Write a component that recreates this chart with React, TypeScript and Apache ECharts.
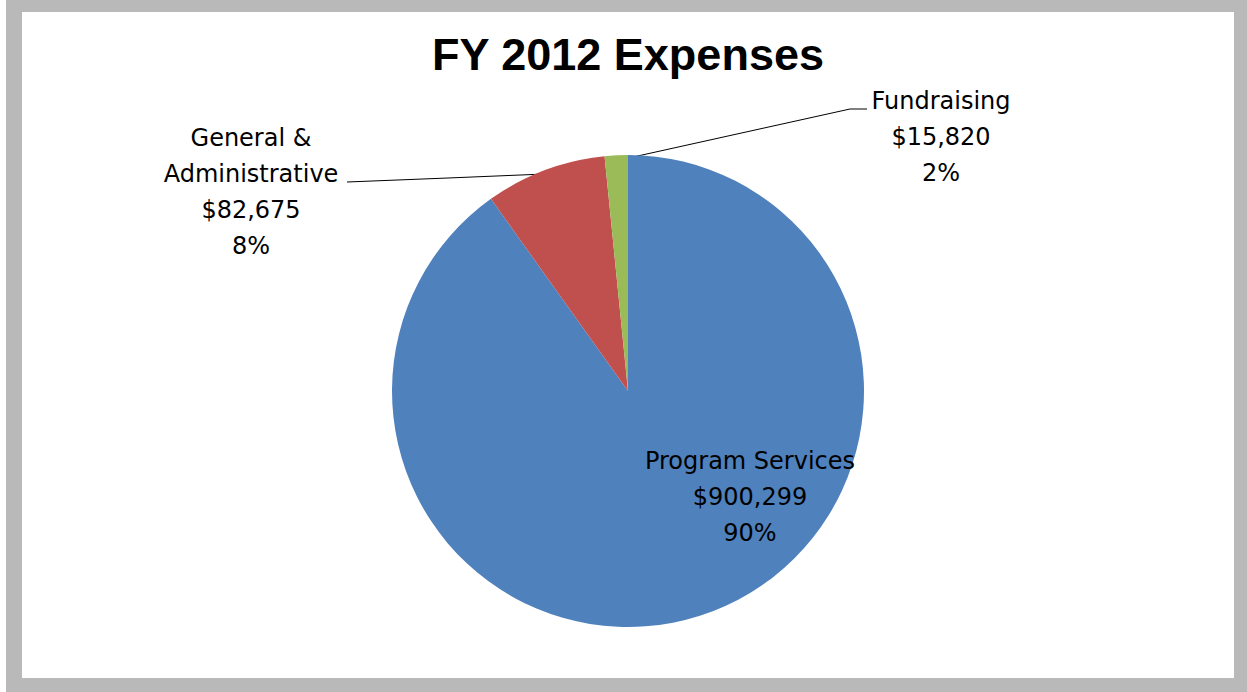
import React, { useEffect, useRef } from "react";
import * as echarts from "echarts";

const categories = ["Program Services", "General & Administrative", "Fundraising"];
const values = [900299, 82675, 15820];
const colors = ["#4F81BD", "#C0504D", "#9BBB59"];
const titleText = "FY 2012 Expenses";

// layout constants (chart coordinates)
const CX = 606;
const CY = 379;
const R = 236;

export default function App() {
  const ref = useRef<HTMLDivElement>(null);
  useEffect(() => {
    if (!ref.current) return;
    const chart = echarts.init(ref.current, undefined, { renderer: "svg" });
    const titleFont = "'Liberation Sans', Arial, sans-serif";
    const font = "'DejaVu Sans', sans-serif";
    const data = categories.map((name, i) => ({
      name,
      value: values[i],
      itemStyle: { color: colors[i] },
      label: { position: i === 0 ? "inside" : "outside" },
      labelLine: { show: i !== 0 },
    }));
    chart.setOption({
      animation: false,
      backgroundColor: "#ffffff",
      title: {
        text: titleText,
        left: "center",
        top: 20,
        padding: 0,
        textStyle: { fontFamily: titleFont, fontSize: 45, fontWeight: "bold", color: "#000" },
      },
      series: [
        {
          type: "pie",
          center: [CX, CY],
          radius: R,
          startAngle: 90,
          clockwise: true,
          avoidLabelOverlap: false,
          itemStyle: { borderWidth: 0 },
          label: {
            fontFamily: font,
            fontSize: 24,
            lineHeight: 36,
            color: "#000",
            align: "center",
            formatter: (p: any) =>
              `${String(p.name).replace("& ", "&\n")}\n$${Number(p.value).toLocaleString("en-US")}\n${Math.round(p.percent)}%`,
          },
          labelLine: {
            show: true,
            length: 10,
            length2: 10,
            lineStyle: { color: "#000", width: 1 },
          },
          labelLayout: (params: any) => {
            const i = params.dataIndex;
            if (i === 0) {
              return { x: CX + 122, y: CY + 106, align: "center", verticalAlign: "middle" };
            }
            if (i === 1) {
              return {
                x: CX - 377,
                y: CY - 199,
                align: "center",
                verticalAlign: "middle",
                labelLinePoints: [
                  [CX - 83, CY - 217],
                  [CX - 180, CY - 213],
                  [CX - 281, CY - 209],
                ],
              };
            }
            return {
              x: CX + 313,
              y: CY - 254,
              align: "center",
              verticalAlign: "middle",
              labelLinePoints: [
                [CX - 13, CY - 230],
                [CX + 222, CY - 282],
                [CX + 239, CY - 282],
              ],
            };
          },
          data,
        },
      ],
    });
    return () => chart.dispose();
  }, []);
  return (
    <div
      style={{
        position: "fixed",
        left: 6,
        top: 0,
        width: 1241,
        height: 692,
        background: "#B9B9B9",
      }}
    >
      <div
        ref={ref}
        style={{
          position: "absolute",
          left: 16,
          top: 12,
          width: 1212,
          height: 666,
          background: "#fff",
        }}
      />
    </div>
  );
}
